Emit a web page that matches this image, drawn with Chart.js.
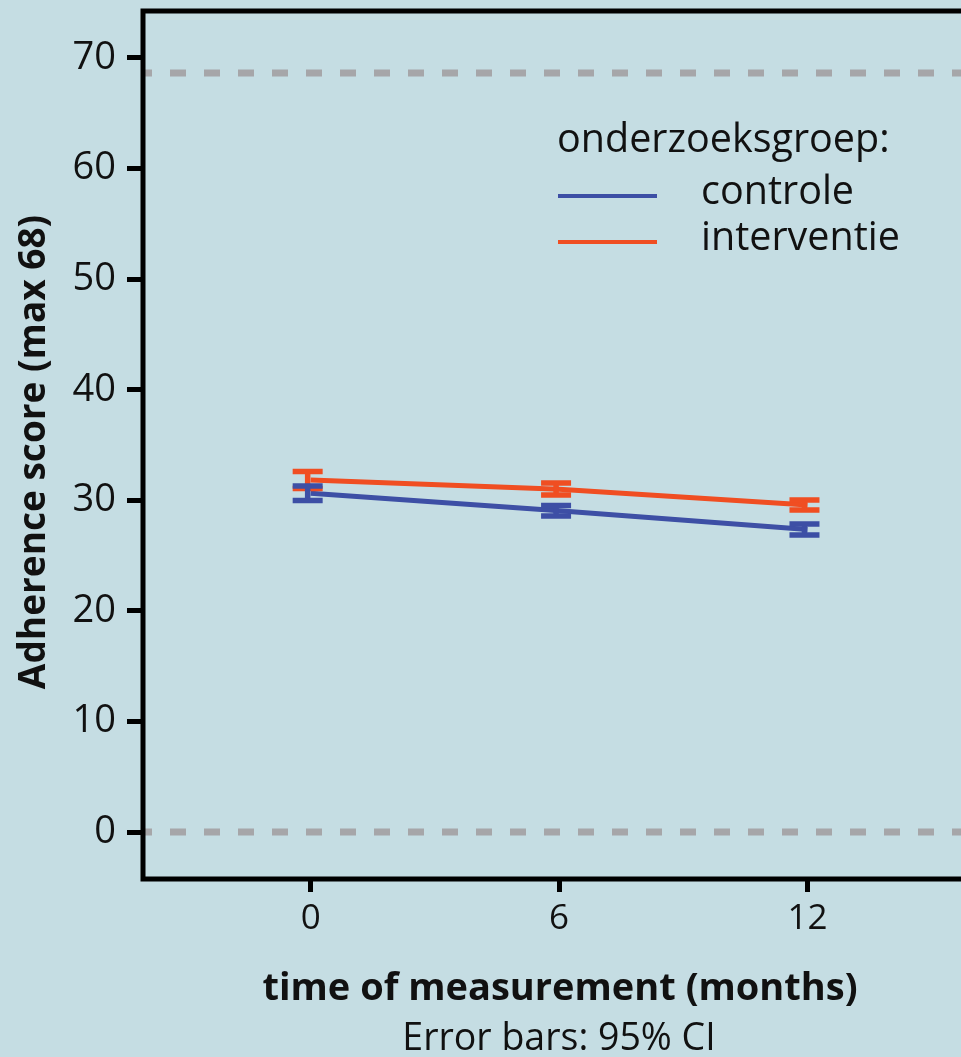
<!DOCTYPE html>
<html><head><meta charset="utf-8">
<script src="https://cdn.jsdelivr.net/npm/chart.js@4.4.0/dist/chart.umd.min.js"></script>
<style>
html,body{margin:0;padding:0;background:#c5dde3;overflow:hidden;width:961px;height:1057px}
canvas{display:block;background:#c5dde3}
</style></head>
<body><canvas id="c" width="980" height="1057"></canvas>
<script>
// ---- data ----
const months = [0, 6, 12];
const xTickValues = [0, 6, 12];
const yTickValues = [0, 10, 20, 30, 40, 50, 60, 70];
const controleMean = [30.64, 29.05, 27.36];
const controleLow  = [29.98, 28.58, 26.86];
const controleHigh = [31.29, 29.53, 27.86];
const interventieMean = [31.83, 31.00, 29.57];
const interventieLow  = [31.06, 30.48, 29.12];
const interventieHigh = [32.60, 31.56, 30.03];
const referenceLines = [0, 68.65];
const seriesLabels = ['controle', 'interventie'];
const legendTitle = 'onderzoeksgroep:';
const yTitle = 'Adherence score (max 68)';
const xTitle = 'time of measurement (months)';
const footnote = 'Error bars: 95% CI';

const BLUE = '#3d4fa5', RED = '#f04e22', FONT = "'Open Sans', sans-serif";

const errorLows = [controleLow, interventieLow];
const errorHighs = [controleHigh, interventieHigh];

const refLinePlugin = {
  id: 'refLines',
  beforeDatasetsDraw(chart) {
    const {ctx, chartArea: a, scales: {y}} = chart;
    ctx.save();
    ctx.strokeStyle = '#a6a6a9';
    ctx.lineWidth = 7;
    ctx.setLineDash([16, 18]);
    ctx.lineDashOffset = 7;
    referenceLines.forEach(v => {
      const py = y.getPixelForValue(v);
      ctx.beginPath(); ctx.moveTo(a.left, py); ctx.lineTo(a.right, py); ctx.stroke();
    });
    ctx.restore();
  }
};

const errorBarPlugin = {
  id: 'errorBars',
  afterDatasetsDraw(chart) {
    const {ctx, scales: {x, y}} = chart;
    ctx.save();
    ctx.lineWidth = 5.5;
    ctx.lineCap = 'butt';
    for (let d = chart.data.datasets.length - 1; d >= 0; d--) {
      ctx.strokeStyle = chart.data.datasets[d].borderColor;
      months.forEach((m, i) => {
        const px = x.getPixelForValue(m) - 3;
        const lo = y.getPixelForValue(errorLows[d][i]);
        const hi = y.getPixelForValue(errorHighs[d][i]);
        ctx.beginPath();
        ctx.moveTo(px, lo); ctx.lineTo(px, hi);
        ctx.moveTo(px - 15, lo); ctx.lineTo(px + 15, lo);
        ctx.moveTo(px - 15, hi); ctx.lineTo(px + 15, hi);
        ctx.stroke();
      });
    }
    ctx.restore();
  }
};

const framePlugin = {
  id: 'frameAndText',
  afterDraw(chart) {
    const {ctx, chartArea: a} = chart;
    ctx.save();
    ctx.strokeStyle = '#000';
    ctx.lineWidth = 5;
    ctx.strokeRect(a.left, a.top, a.right - a.left, a.bottom - a.top);

    ctx.fillStyle = '#111';
    // legend
    ctx.textAlign = 'left';
    ctx.textBaseline = 'alphabetic';
    ctx.font = `39.5px ${FONT}`;
    ctx.fillText(legendTitle, 557, 152);
    const lx = 558, lw = 99, rows = [196, 242], textY = [204, 250];
    chart.data.datasets.forEach((ds, i) => {
      ctx.strokeStyle = ds.borderColor;
      ctx.lineWidth = 4;
      ctx.beginPath(); ctx.moveTo(lx, rows[i]); ctx.lineTo(lx + lw, rows[i]); ctx.stroke();
      ctx.fillText(ds.label, 701, textY[i]);
    });

    // axis titles
    const cx = (a.left + a.right) / 2;
    ctx.textAlign = 'center';
    ctx.font = `bold 38px ${FONT}`;
    ctx.fillText(xTitle, cx + 3, 1000);
    ctx.font = `37.5px ${FONT}`;
    ctx.fillText(footnote, cx + 2, 1050);

    ctx.save();
    ctx.translate(45, 452);
    ctx.rotate(-Math.PI / 2);
    ctx.font = `bold 37px ${FONT}`;
    ctx.fillText(yTitle, 0, 0);
    ctx.restore();
    ctx.restore();
  }
};

new Chart(document.getElementById('c'), {
  type: 'line',
  data: {
    datasets: [
      { label: seriesLabels[0], data: months.map((m, i) => ({x: m, y: controleMean[i]})),
        borderColor: BLUE, backgroundColor: BLUE, borderWidth: 5, pointRadius: 0, tension: 0 },
      { label: seriesLabels[1], data: months.map((m, i) => ({x: m, y: interventieMean[i]})),
        borderColor: RED, backgroundColor: RED, borderWidth: 5, pointRadius: 0, tension: 0 }
    ]
  },
  options: {
    responsive: false,
    animation: false,
    events: [],
    layout: { padding: { top: 11, right: 9, left: 0, bottom: 0 } },
    plugins: { legend: { display: false }, tooltip: { enabled: false }, title: {display: false} },
    scales: {
      x: {
        type: 'linear', min: -4.05, max: 15.95,
        afterBuildTicks: s => { s.ticks = xTickValues.map(v => ({value: v})); },
        afterFit: s => { s.height = 178; s.paddingLeft = 0; s.paddingRight = 0; },
        border: { display: false },
        grid: { drawOnChartArea: false, drawTicks: true, tickLength: 13, tickWidth: 5, tickColor: '#000' },
        ticks: { color: '#111', font: { family: FONT, size: 35 }, padding: 6, maxRotation: 0, autoSkip: false }
      },
      y: {
        type: 'linear', min: -4.25, max: 74.25,
        afterBuildTicks: s => { s.ticks = yTickValues.map(v => ({value: v})); },
        afterFit: s => { s.width = 143; s.paddingTop = 0; s.paddingBottom = 0; },
        border: { display: false },
        grid: { drawOnChartArea: false, drawTicks: true, tickLength: 16, tickWidth: 5, tickColor: '#000' },
        ticks: { color: '#111', font: { family: FONT, size: 38 }, padding: 11, autoSkip: false }
      }
    }
  },
  plugins: [refLinePlugin, errorBarPlugin, framePlugin]
});
</script>
</body></html>
